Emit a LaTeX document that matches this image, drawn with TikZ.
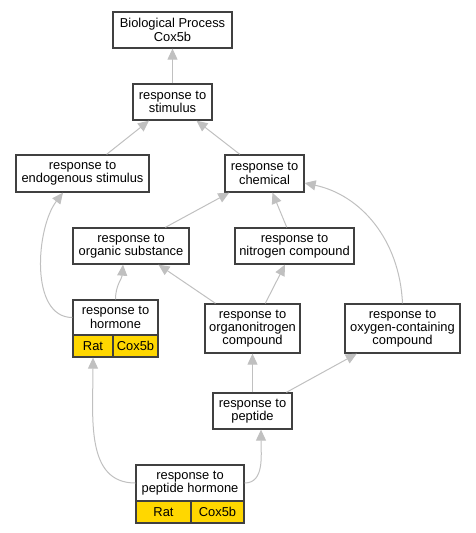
\documentclass[tikz,border=0pt]{standalone}
\usepackage{fontspec}
\setmainfont{Liberation Sans}
\usetikzlibrary{arrows.meta,calc}
\definecolor{edgegray}{HTML}{C0C0C0}
\definecolor{boxline}{HTML}{404040}
\definecolor{gold}{HTML}{FFD700}
\begin{document}
\begin{tikzpicture}[x=1pt,y=-1pt,
  box/.style={draw=boxline,line width=1.3pt,fill=white,align=center,inner sep=0pt,
    font=\fontsize{12.9}{13.3}\selectfont,text=black},
  cell/.style={box,fill=gold},
  edge/.style={draw=edgegray,line width=1pt,-{Triangle[length=11pt,width=10pt,fill=edgegray]}}]
\useasboundingbox (0,0) rectangle (476,533);
% nodes
\node[box,minimum width=119pt,minimum height=36pt] (bp) at (172.5,30) {Biological Process\\Cox5b};
\node[box,minimum width=79pt,minimum height=36pt] (stim) at (172.5,102) {response to\\stimulus};
\node[box,minimum width=133pt,minimum height=37pt] (endo) at (82.5,173.5) {response to\\endogenous stimulus};
\node[box,minimum width=79pt,minimum height=37pt] (chem) at (264.5,173.5) {response to\\chemical};
\node[box,minimum width=116pt,minimum height=36pt] (org) at (131,246) {response to\\organic substance};
\node[box,minimum width=119pt,minimum height=36pt] (nitro) at (294.5,246) {response to\\nitrogen compound};
\node[box,minimum width=85pt,minimum height=35pt] (hT) at (115.5,317.5) {response to\\hormone};
\node[cell,minimum width=40pt,minimum height=22pt] (hR) at (93,346) {Rat};
\node[cell,minimum width=45pt,minimum height=22pt] (hC) at (135.5,346) {Cox5b};
\node[box,minimum width=95pt,minimum height=49pt] (orgN) at (252.5,328.5) {response to\\organonitrogen\\compound};
\node[box,minimum width=115pt,minimum height=49pt] (oxy) at (402.5,328.5) {response to\\oxygen-containing\\compound};
\node[box,minimum width=79pt,minimum height=36pt] (pep) at (252.5,411) {response to\\peptide};
\node[box,minimum width=108pt,minimum height=36pt] (phT) at (190,483) {response to\\peptide hormone};
\node[cell,minimum width=55pt,minimum height=22pt] (phR) at (163.5,512) {Rat};
\node[cell,minimum width=53pt,minimum height=22pt] (phC) at (217.5,512) {Cox5b};
% edges
\draw[edge] (stim) -- (bp);
\draw[edge] (endo) -- (stim);
\draw[edge] (chem) -- (stim);
\draw[edge] (org) -- (chem);
\draw[edge] (nitro) -- (chem);
\draw[edge] (orgN) -- (org);
\draw[edge] (orgN) -- (nitro);
\draw[edge] (pep) -- (orgN);
\draw[edge] (pep) -- (oxy);
\draw[edge] (hT.north) .. controls +(0,-14) and +(-1,14) .. ($(org.south)+(-8,0)$);
\draw[edge] (hT.west) .. controls +(-43,0) and +(-27,35) .. ($(endo.south)+(-19.5,0)$);
\draw[edge] (oxy.north) .. controls +(-3,-64) and +(56,12) .. ($(chem.east)+(0,9.5)$);
\draw[edge] (phT.west) .. controls +(-50,0) and +(0,60) .. (hR.south);
\draw[edge] (phT.east) .. controls +(20,0) and +(0,25) .. ($(pep.south)+(8.5,0)$);
\end{tikzpicture}
\end{document}
